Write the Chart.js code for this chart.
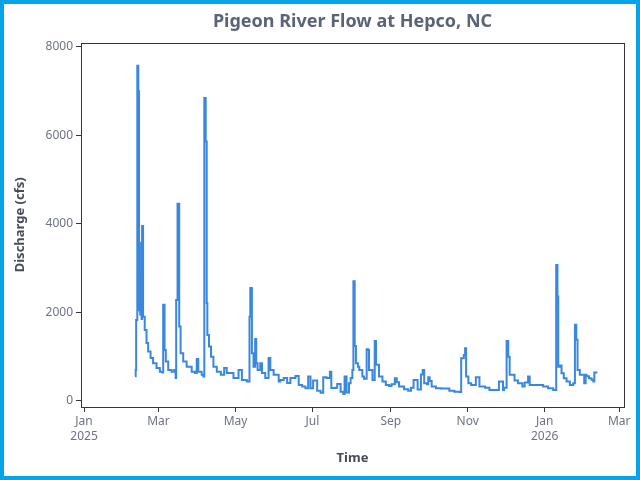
<!DOCTYPE html>
<html>
<head>
<meta charset="utf-8">
<script src="https://cdn.jsdelivr.net/npm/chart.js@4.4.1/dist/chart.umd.min.js"></script>
<style>
  html, body { margin: 0; padding: 0; background: #fff; }
  #wrap { width: 640px; height: 480px; box-sizing: border-box; border: 4px solid #06a3e6; }
  canvas { display: block; }
</style>
</head>
<body>
<div id="wrap"><canvas id="flow" width="632" height="472"></canvas></div>
<script>
// readings (UTC date + hour) and discharge in cfs
const flowTimes = [
  '2025-02-10 09', '2025-02-10 22', '2025-02-11 07', '2025-02-12 05', '2025-02-13 00', '2025-02-13 14',
  '2025-02-14 05', '2025-02-14 12', '2025-02-14 19', '2025-02-15 05', '2025-02-15 14', '2025-02-16 00',
  '2025-02-16 19', '2025-02-18 02',
  '2025-02-19 12', '2025-02-20 19', '2025-02-22 17', '2025-02-24 17', '2025-02-27 10', '2025-03-02 02',
  '2025-03-03 22', '2025-03-04 17', '2025-03-05 19', '2025-03-06 19', '2025-03-08 17', '2025-03-11 10',
  '2025-03-13 10', '2025-03-14 14', '2025-03-15 00', '2025-03-16 02', '2025-03-17 10', '2025-03-18 12',
  '2025-03-20 14', '2025-03-23 07', '2025-03-27 07', '2025-03-29 22', '2025-03-31 07', '2025-04-01 12',
  '2025-04-04 05', '2025-04-05 12', '2025-04-06 07', '2025-04-07 10', '2025-04-08 05', '2025-04-08 17',
  '2025-04-10 00', '2025-04-11 14', '2025-04-13 12', '2025-04-16 05', '2025-04-19 10', '2025-04-22 00',
  '2025-04-24 02', '2025-04-26 19', '2025-04-29 10', '2025-05-03 10', '2025-05-06 02', '2025-05-10 00',
  '2025-05-12 02', '2025-05-12 17', '2025-05-14 00', '2025-05-15 07', '2025-05-16 14', '2025-05-17 10',
  '2025-05-18 12', '2025-05-20 14', '2025-05-22 00', '2025-05-24 14', '2025-05-27 05', '2025-05-28 14',
  '2025-05-31 05', '2025-06-04 05', '2025-06-05 12', '2025-06-08 05', '2025-06-10 22', '2025-06-13 12',
  '2025-06-17 12', '2025-06-20 02', '2025-06-22 19', '2025-06-25 10', '2025-06-27 14', '2025-06-29 10',
  '2025-07-01 12', '2025-07-04 17', '2025-07-07 10', '2025-07-09 12', '2025-07-12 02', '2025-07-14 19',
  '2025-07-15 22', '2025-07-19 07', '2025-07-20 14', '2025-07-23 07', '2025-07-25 10', '2025-07-26 10',
  '2025-07-28 00', '2025-07-29 22', '2025-07-31 05', '2025-08-01 14', '2025-08-02 10', '2025-08-03 10',
  '2025-08-04 10', '2025-08-06 00', '2025-08-07 02', '2025-08-09 12', '2025-08-10 19', '2025-08-12 22',
  '2025-08-14 00', '2025-08-14 19', '2025-08-17 12', '2025-08-19 07', '2025-08-20 07', '2025-08-22 17',
  '2025-08-25 10', '2025-08-28 02', '2025-08-30 17', '2025-09-01 14', '2025-09-04 05', '2025-09-05 19',
  '2025-09-07 14', '2025-09-11 14', '2025-09-14 19', '2025-09-17 00', '2025-09-19 02', '2025-09-22 07',
  '2025-09-24 22', '2025-09-26 07', '2025-09-27 12', '2025-09-29 17', '2025-09-30 17', '2025-10-01 19',
  '2025-10-03 10', '2025-10-06 19', '2025-10-10 19', '2025-10-17 10', '2025-10-21 10', '2025-10-25 10',
  '2025-10-26 19', '2025-10-28 22', '2025-10-29 22', '2025-10-30 17', '2025-11-01 12', '2025-11-03 17',
  '2025-11-07 10', '2025-11-10 07', '2025-11-13 00', '2025-11-14 19', '2025-11-18 05', '2025-11-24 22',
  '2025-11-25 17', '2025-11-28 22', '2025-11-29 17', '2025-12-01 19', '2025-12-03 02', '2025-12-04 05',
  '2025-12-08 02', '2025-12-10 19', '2025-12-14 07', '2025-12-16 02', '2025-12-18 19', '2025-12-20 02',
  '2025-12-27 19', '2025-12-30 17', '2026-01-03 17', '2026-01-07 17', '2026-01-10 02', '2026-01-11 02',
  '2026-01-11 17', '2026-01-12 22', '2026-01-14 07', '2026-01-16 02', '2026-01-18 07', '2026-01-20 22',
  '2026-01-23 14', '2026-01-24 22', '2026-01-26 00', '2026-01-27 00', '2026-01-28 19', '2026-01-30 19',
  '2026-02-01 07', '2026-02-02 10', '2026-02-03 05', '2026-02-05 00', '2026-02-07 02', '2026-02-08 12',
  '2026-02-09 07', '2026-02-11 17'
];
const flowCfs = [
  560, 700, 1830, 7570, 6990, 2050,
  2920, 1950, 2600, 3570, 1850, 3950,
  1900, 1600,
  1310, 1115, 970, 850, 745, 660,
  640, 2170, 1150, 890, 700, 660,
  700, 520, 2280, 4450, 1680, 1080,
  890, 775, 660, 630, 950, 660,
  590, 550, 6840, 5860, 2210, 1490,
  1230, 1000, 775, 660, 590, 745,
  630, 630, 520, 700, 475, 440,
  1900, 2550, 1080, 775, 1400, 850,
  700, 850, 630, 520, 970, 700,
  590, 440, 475, 520, 405, 520,
  565, 360, 325, 287, 550, 287,
  460, 233, 188, 535, 520, 660,
  294, 300, 384, 210, 158, 550,
  190, 400, 520, 700, 2700, 1240,
  850, 775, 700, 550, 500, 1170,
  1150, 700, 475, 1355, 815, 550,
  440, 360, 340, 380, 515, 420,
  325, 265, 233, 300, 475, 260,
  600, 700, 400, 380, 535, 450,
  325, 287, 280, 233, 210, 200,
  965, 1040, 1190, 550, 400, 360,
  535, 325, 325, 300, 250, 250,
  440, 250, 300, 1355, 1000, 590,
  460, 400, 325, 415, 550, 360,
  360, 325, 287, 250, 3070, 2360,
  775, 800, 625, 515, 440, 360,
  400, 1720, 1380, 700, 590, 590,
  400, 590, 560, 515, 480, 440,
  640, 640
];

const xTickDates = ['2025-01-01', '2025-03-01', '2025-05-01', '2025-07-01', '2025-09-01', '2025-11-01', '2026-01-01', '2026-03-01'];
const xTickLabels = [['Jan', '2025'], ['Mar'], ['May'], ['Jul'], ['Sep'], ['Nov'], ['Jan', '2026'], ['Mar']];
const yTicks = [0, 2000, 4000, 6000, 8000];

const DAY = 86400000;
function toMs(s) {
  return Date.parse(s.replace(' ', 'T') + ':00:00Z');
}
const xTickValues = xTickDates.map(d => Date.parse(d + 'T00:00:00Z'));
const points = flowTimes.map((t, i) => ({ x: toMs(t), y: flowCfs[i] }));

Chart.defaults.font.family = "'Noto Sans', sans-serif";

// draws the box round the plot area
const frame = {
  id: 'frame',
  afterDraw(chart) {
    const { ctx, chartArea: a } = chart;
    ctx.save();
    ctx.strokeStyle = '#33363d';
    ctx.lineWidth = 1;
    ctx.strokeRect(Math.round(a.left) + 0.5, Math.round(a.top) + 0.5,
      Math.round(a.right - a.left), Math.round(a.bottom - a.top));
    ctx.restore();
  }
};

new Chart(document.getElementById('flow'), {
  type: 'line',
  data: {
    datasets: [{
      data: points,
      borderColor: '#3a87e0',
      borderWidth: 2,
      pointRadius: 0,
      stepped: true,
      fill: false
    }]
  },
  options: {
    responsive: false,
    animation: false,
    devicePixelRatio: 1,
    layout: { padding: { left: 0, right: 12, top: 0, bottom: 0 } },
    plugins: {
      legend: { display: false },
      tooltip: { enabled: false },
      title: {
        display: true,
        text: 'Pigeon River Flow at Hepco, NC',
        fullSize: false,
        color: '#5b6377',
        font: { size: 18, weight: 'bold' },
        padding: { top: 7, bottom: 10 }
      }
    },
    scales: {
      x: {
        type: 'linear',
        min: xTickValues[0] - 2.4 * DAY,
        max: xTickValues[7] + 3.8 * DAY,
        afterBuildTicks(axis) { axis.ticks = xTickValues.map(v => ({ value: v })); },
        afterFit(axis) { axis.height = 69; },
        border: { display: false },
        grid: { drawOnChartArea: false, drawTicks: true, tickLength: 5, color: '#33363d' },
        ticks: {
          autoSkip: false,
          maxRotation: 0,
          padding: 2,
          color: '#6e7383',
          font: { size: 12, lineHeight: 1.25 },
          callback(v) {
            const i = xTickValues.indexOf(v);
            return i >= 0 ? xTickLabels[i] : '';
          }
        },
        title: {
          display: true,
          text: 'Time',
          color: '#464b55',
          font: { size: 13, weight: 'bold' },
          padding: { top: 4, bottom: 10 }
        }
      },
      y: {
        min: -136,
        max: 8090,
        afterBuildTicks(axis) { axis.ticks = yTicks.map(v => ({ value: v })); },
        afterFit(axis) { axis.width = 77; },
        border: { display: false },
        grid: { drawOnChartArea: false, drawTicks: true, tickLength: 5, color: '#33363d' },
        ticks: {
          padding: 3,
          color: '#6e7383',
          font: { size: 12 },
          callback: v => String(v)
        },
        title: {
          display: true,
          text: 'Discharge (cfs)',
          color: '#464b55',
          font: { size: 13, weight: 'bold' },
          padding: { top: 8, bottom: 4 }
        }
      }
    }
  },
  plugins: [frame]
});
</script>
</body>
</html>
